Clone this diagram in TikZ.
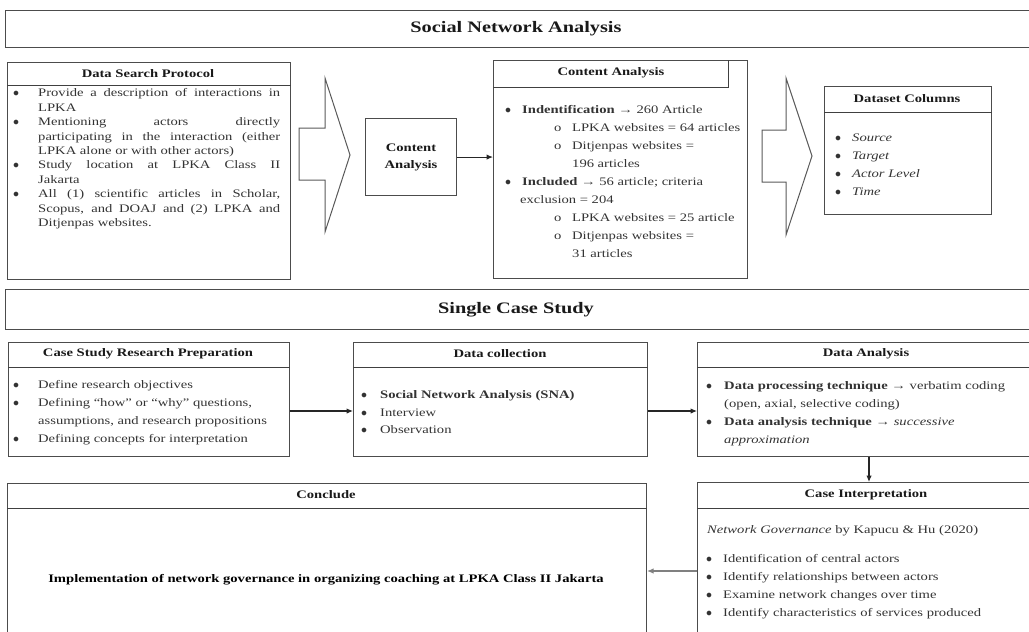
\documentclass[tikz,border=0pt]{standalone}
\usepackage{fontspec}
\setmainfont{Liberation Serif}[FakeStretch=1.27]
\usetikzlibrary{arrows.meta}
\newcommand\jl[2]{\makebox[#1][s]{#2}}
\newcommand\bl[1]{\makebox[#1][l]{$\bullet$}}
\begin{document}
\begin{tikzpicture}[x=1pt,y=-1pt,
 box/.style={draw=black!70,line width=1.1pt,inner sep=0,anchor=north west},
 hl/.style={draw=black!75,line width=1pt},
 hdr/.style={font=\bfseries\fontsize{11.5}{13}\selectfont,text=black!90,inner sep=0},
 ttl/.style={font=\bfseries\fontsize{16}{18}\selectfont,text=black!90,inner sep=0},
 body/.style={anchor=north west,inner sep=0,align=left,text=black!80},
 arr/.style={-{Latex[length=6.5pt,width=5.5pt]},line width=1.1pt,draw=black!85},
 bigarrow/.style={draw=black!65,line width=1pt,line join=miter}]
\useasboundingbox (0,0) rectangle (1029,632);

% banners
\node[box,minimum width=1030pt,minimum height=37pt] (snaban) at (5,10) {};
\node[ttl] (snat) at (516,29) {Social Network Analysis};
\node[box,minimum width=1030pt,minimum height=40pt] (scsban) at (5,289) {};
\node[ttl] (scst) at (516,310) {Single Case Study};

% Data Search Protocol
\node[box,minimum width=283pt,minimum height=217pt] (dsp) at (7,62) {};
\draw[hl] (dsp.west |- 0,85) -- (dsp.east |- 0,85);
\node[hdr] (dsph) at (148,74) {Data Search Protocol};
\node[body,font=\fontsize{11.5}{14.45}\selectfont] (dspb) at (13,86.4) {%
\strut\bl{25pt}\jl{242pt}{Provide a description of interactions in}\\
\hspace*{25pt}LPKA\\
\bl{25pt}\jl{242pt}{Mentioning actors directly}\\
\hspace*{25pt}\jl{242pt}{participating in the interaction (either}\\
\hspace*{25pt}LPKA alone or with other actors)\\
\bl{25pt}\jl{242pt}{Study location at LPKA Class II}\\
\hspace*{25pt}Jakarta\\
\bl{25pt}\jl{242pt}{All (1) scientific articles in Scholar,}\\
\hspace*{25pt}\jl{242pt}{Scopus, and DOAJ and (2) LPKA and}\\
\hspace*{25pt}Ditjenpas websites.};

% big arrow 1
\draw[bigarrow] (299,128) -- (325,128) -- (325,78) -- (350,155) -- (325,232) -- (325,180) -- (299,180) -- cycle;

% small content analysis box
\node[box,minimum width=91pt,minimum height=77pt] (cabox) at (365,118) {};
\node[hdr,align=center,font=\bfseries\fontsize{11.5}{17}\selectfont] (caboxt) at (cabox.center) {Content\\Analysis};

% Content Analysis
\node[box,minimum width=254pt,minimum height=218pt] (ca) at (493,60) {};
\draw[hl] (ca.west |- 0,87) -- (728,87) -- (728,60);
\node[hdr] (cah) at (611,73) {Content Analysis};
\node[body,font=\fontsize{11.5}{18}\selectfont] (cab) at (505,100.2) {%
\strut\bl{17pt}\textbf{Indentification} → 260 Article\\
\hspace*{49pt}\makebox[18pt][l]{o}LPKA websites = 64 articles\\
\hspace*{49pt}\makebox[18pt][l]{o}Ditjenpas websites =\\
\hspace*{67pt}196 articles\\
\bl{17pt}\textbf{Included} → 56 article; criteria\\
\hspace*{15pt}exclusion = 204\\
\hspace*{49pt}\makebox[18pt][l]{o}LPKA websites = 25 article\\
\hspace*{49pt}\makebox[18pt][l]{o}Ditjenpas websites =\\
\hspace*{67pt}31 articles};
\draw[arr] (cabox.east) -- (ca.west |- cabox.east);

% big arrow 2
\draw[bigarrow] (762,130) -- (786,130) -- (786,78) -- (812,156) -- (786,235) -- (786,182) -- (762,182) -- cycle;

% Dataset Columns
\node[box,minimum width=167pt,minimum height=128pt] (dsc) at (824,86) {};
\draw[hl] (dsc.west |- 0,112) -- (dsc.east |- 0,112);
\node[hdr] (dsch) at (907,99) {Dataset Columns};
\node[body,font=\fontsize{11.5}{18}\selectfont\itshape] (dscb) at (835,128.2) {%
\strut\bl{17pt}Source\\
\bl{17pt}Target\\
\bl{17pt}Actor Level\\
\bl{17pt}Time};

% Case Study Research Preparation
\node[box,minimum width=281pt,minimum height=114pt] (prep) at (8,342) {};
\draw[hl] (prep.west |- 0,367) -- (prep.east |- 0,367);
\node[hdr] (preph) at (148,354) {Case Study Research Preparation};
\node[body,font=\fontsize{11.5}{17.7}\selectfont] (prepb) at (13,376.4) {%
\strut\bl{25pt}Define research objectives\\
\bl{25pt}Defining “how” or “why” questions,\\
\hspace*{25pt}assumptions, and research propositions\\
\bl{25pt}Defining concepts for interpretation};

% Data collection
\node[box,minimum width=294pt,minimum height=114pt] (dcol) at (353,342) {};
\draw[hl] (dcol.west |- 0,367) -- (dcol.east |- 0,367);
\node[hdr] (dcolh) at (500,354) {Data collection};
\node[body,font=\fontsize{11.5}{17.5}\selectfont] (dcolb) at (361,386.5) {%
\strut\bl{19pt}\textbf{Social Network Analysis (SNA)}\\
\bl{19pt}Interview\\
\bl{19pt}Observation};

% Data Analysis
\node[box,minimum width=340pt,minimum height=114pt] (dana) at (697,342) {};
\draw[hl] (dana.west |- 0,367) -- (1040,367);
\node[hdr] (danah) at (866,354) {Data Analysis};
\node[body,font=\fontsize{11.5}{17.7}\selectfont] (danab) at (706,377.4) {%
\strut\bl{18pt}\textbf{Data processing technique} → verbatim coding\\
\hspace*{18pt}(open, axial, selective coding)\\
\bl{18pt}\textbf{Data analysis technique} → \textit{successive}\\
\hspace*{18pt}\textit{approximation}};

% Case Interpretation
\node[box,minimum width=340pt,minimum height=160pt] (cint) at (697,482) {};
\draw[hl] (cint.west |- 0,508) -- (1040,508);
\node[hdr] (cinth) at (866,495) {Case Interpretation};
\node[body,anchor=base west,font=\fontsize{11.5}{14}\selectfont] (cintg) at (707,533.8) {\textit{Network Governance} by Kapucu \& Hu (2020)};
\node[body,font=\fontsize{11.5}{18.3}\selectfont] (cintb) at (706,549) {%
\strut\bl{17pt}Identification of central actors\\
\bl{17pt}Identify relationships between actors\\
\bl{17pt}Examine network changes over time\\
\bl{17pt}Identify characteristics of services produced};

% Conclude
\node[box,minimum width=639pt,minimum height=160pt] (concl) at (7,483) {};
\draw[hl] (concl.west |- 0,508) -- (concl.east |- 0,508);
\node[hdr] (conclh) at (326,495) {Conclude};
\node[hdr,text=black] (conclb) at (326,580) {Implementation of network governance in organizing coaching at LPKA Class II Jakarta};

% connectors
\draw[arr] (prep.east |- 0,411) -- (dcol.west |- 0,411);
\draw[arr] (dcol.east |- 0,411) -- (dana.west |- 0,411);
\draw[arr] (dana.south -| 869,0) -- (cint.north -| 869,0);
\draw[arr,draw=black!50] (cint.west |- 0,571) -- (concl.east |- 0,571);
\end{tikzpicture}
\end{document}
